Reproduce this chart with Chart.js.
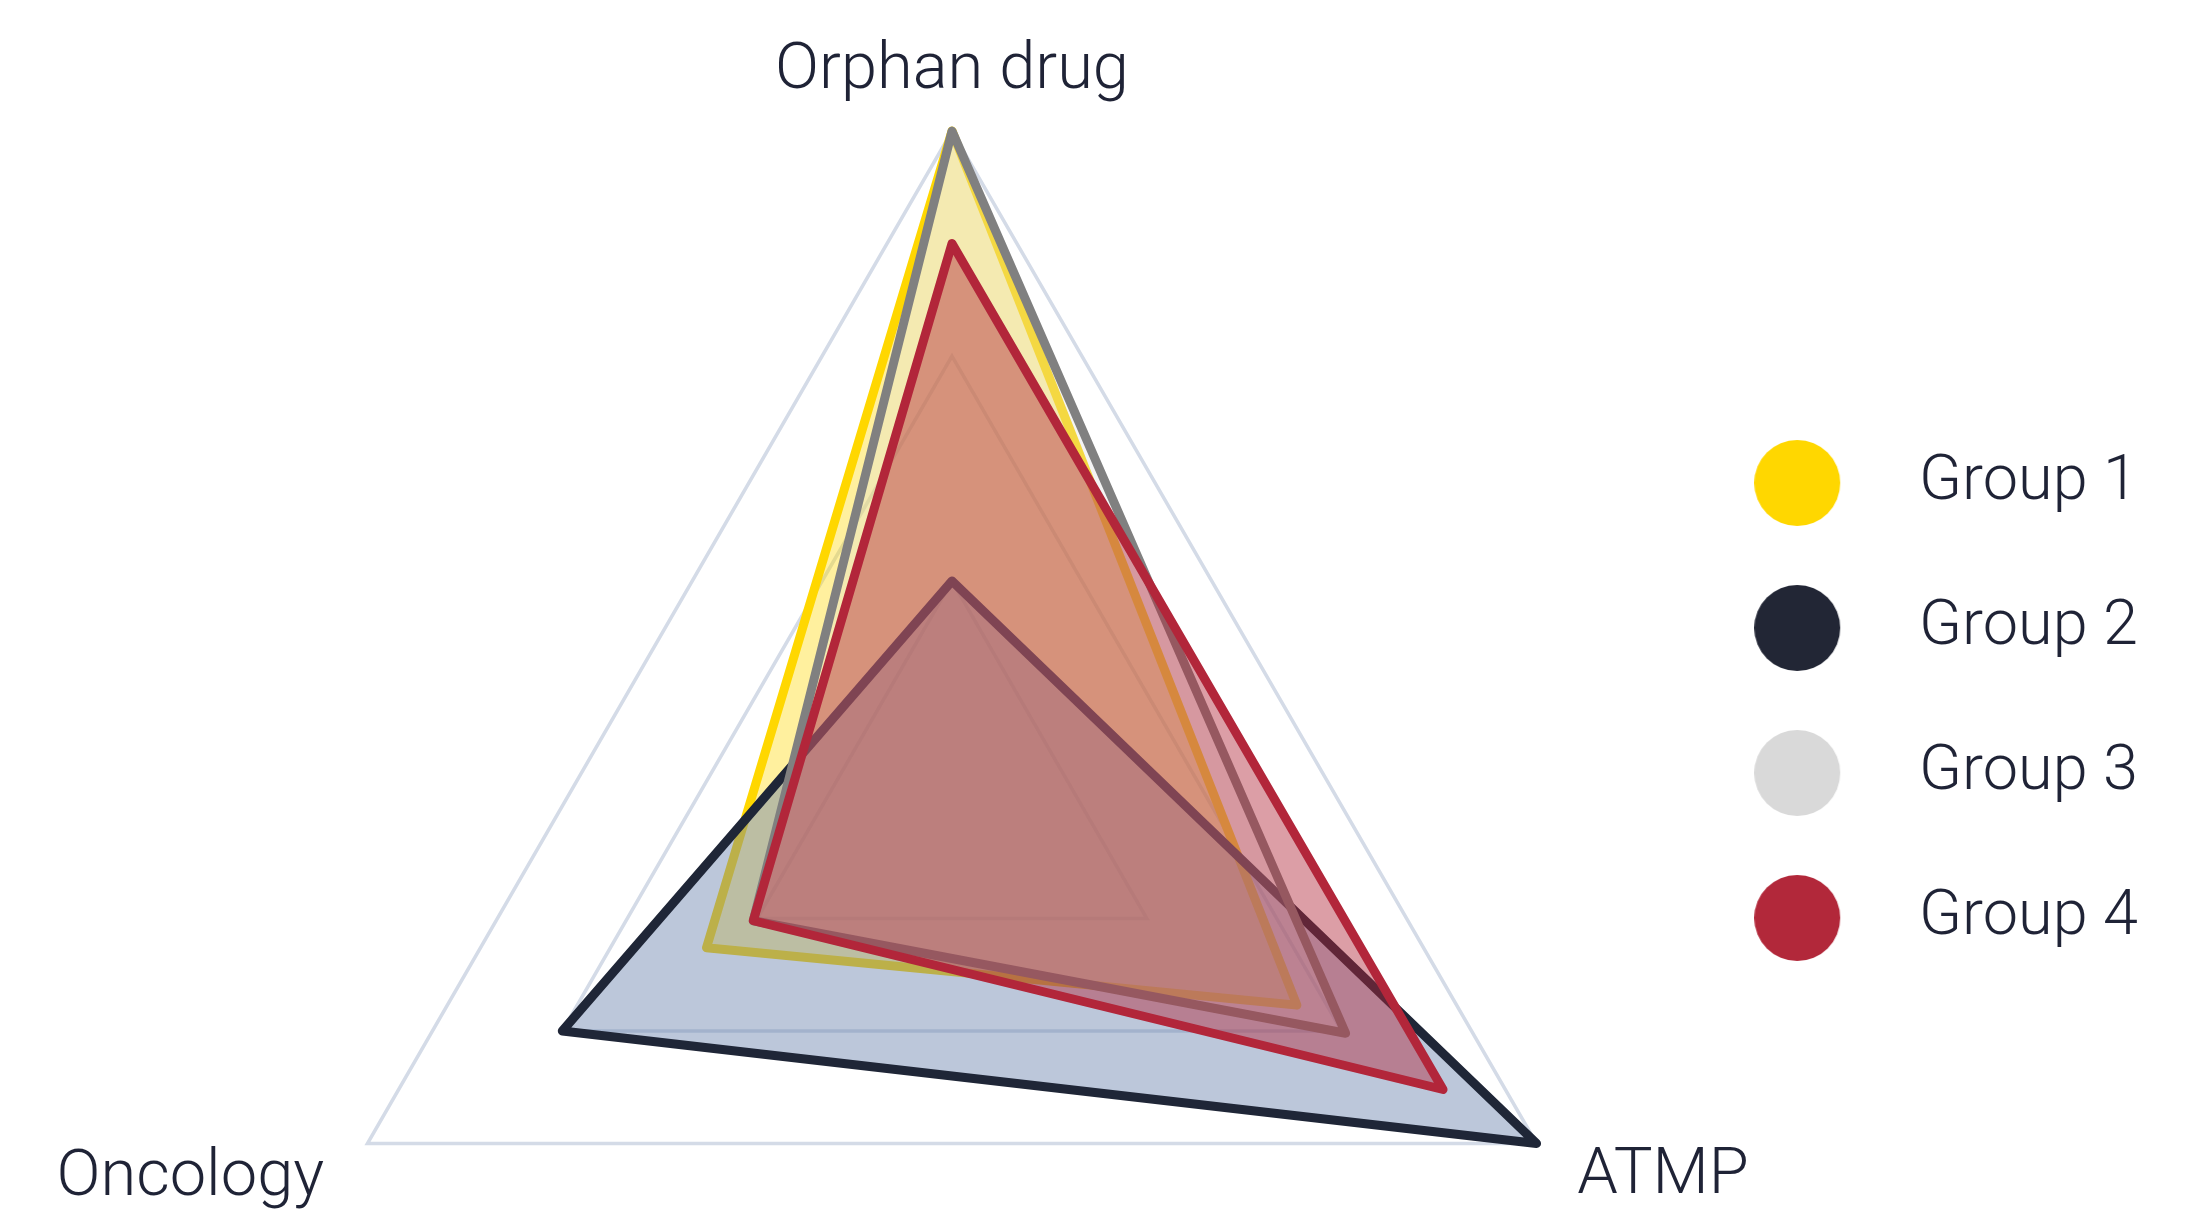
<!DOCTYPE html>
<html>
<head>
<meta charset="utf-8">
<script src="https://cdn.jsdelivr.net/npm/chart.js@4/dist/chart.umd.min.js"></script>
<style>
  html, body { margin: 0; padding: 0; background: #ffffff; }
  #wrap { width: 2196px; height: 1212px; }
</style>
</head>
<body>
<div id="wrap"><canvas id="c" width="2196" height="1212"></canvas></div>
<script>
// ---- data ----
const categories = ['Orphan drug', 'ATMP', 'Oncology'];
const seriesNames = ['Group 1', 'Group 2', 'Group 3', 'Group 4'];
const group1 = [3.00, 1.77, 1.26];
const group2 = [1.00, 3.00, 2.00];
const group3 = [3.00, 2.02, 1.02];
const group4 = [2.50, 2.52, 1.02];
const scaleMin = 0;
const scaleMax = 3;
const scaleStep = 1;

// ---- styles ----
const textColor = '#1f2336';
const legendColors = ['#ffd700', '#222635', '#d9d9d9', '#b2283a'];
const borderColors = ['#ffd700', '#1f2637', '#808080', '#b2263a'];
const fillColors = ['rgba(255,215,0,0.38)', 'rgba(100,125,170,0.43)', 'rgba(217,217,217,0.30)', 'rgba(178,40,58,0.45)'];
const drawOrder = [4, 3, 2, 1];
const labelPadding = [50, 47, 50];

// layout of the radial scale
const radar = { cx: 952, cy: 806, radius: 675 };

// legend geometry
const canvasWidth = 2196;
const legendLeft = 1753;
const legendFont = { family: 'Roboto', size: 63, weight: '300' };
const legendPad = 82;
const legendBoxWidth = 52.5;
const mctx = document.createElement('canvas').getContext('2d');
mctx.font = 'normal ' + legendFont.weight + ' ' + legendFont.size + 'px ' + legendFont.family;
const maxTextWidth = Math.max(...seriesNames.map(s => mctx.measureText(s).width));
const legendWidth = legendPad + legendBoxWidth + legendFont.size / 2 + maxTextWidth + 10;
const rightPad = canvasWidth - legendLeft - legendWidth;

function makeMarker(color) {
  const c = document.createElement('canvas');
  c.width = 214; c.height = 86;
  const g = c.getContext('2d');
  g.fillStyle = color;
  g.beginPath();
  g.arc(43, 43, 43, 0, Math.PI * 2);
  g.fill();
  return c;
}
const markers = legendColors.map(makeMarker);

const seriesValues = [group1, group2, group3, group4];
const datasets = seriesNames.map((name, i) => ({
  label: name,
  data: seriesValues[i],
  borderColor: borderColors[i],
  backgroundColor: fillColors[i],
  borderWidth: 9,
  borderJoinStyle: 'round',
  pointRadius: 0,
  pointHoverRadius: 0,
  fill: true,
  order: drawOrder[i]
}));

new Chart(document.getElementById('c'), {
  type: 'radar',
  data: { labels: categories, datasets },
  options: {
    responsive: false,
    animation: false,
    devicePixelRatio: 1,
    layout: { padding: { left: 0, right: rightPad, top: 0, bottom: 0 } },
    scales: {
      r: {
        min: scaleMin,
        max: scaleMax,
        ticks: { display: false, stepSize: scaleStep },
        angleLines: { display: false },
        grid: { color: '#d4dbe7', lineWidth: 3.5 },
        pointLabels: {
          color: textColor,
          padding: (ctx) => labelPadding[ctx.index],
          font: { family: 'Roboto', size: 65, weight: '300', lineHeight: 0.3 }
        },
        afterSetDimensions: (scale) => {
          scale.xCenter = radar.cx;
          scale.yCenter = radar.cy;
          scale.drawingArea = radar.radius;
        }
      }
    },
    plugins: {
      tooltip: { enabled: false },
      legend: {
        position: 'right',
        align: 'center',
        title: { display: true, text: '', font: { size: 1, lineHeight: 1 }, padding: { top: 188, bottom: 0 } },
        labels: {
          usePointStyle: true,
          pointStyleWidth: legendBoxWidth,
          padding: legendPad,
          color: textColor,
          font: legendFont,
          sort: (a, b) => a.datasetIndex - b.datasetIndex,
          generateLabels: (chart) => {
            const items = Chart.defaults.plugins.legend.labels.generateLabels(chart);
            items.forEach(it => { it.pointStyle = markers[it.datasetIndex]; });
            return items;
          }
        }
      }
    }
  }
});
</script>
</body>
</html>
